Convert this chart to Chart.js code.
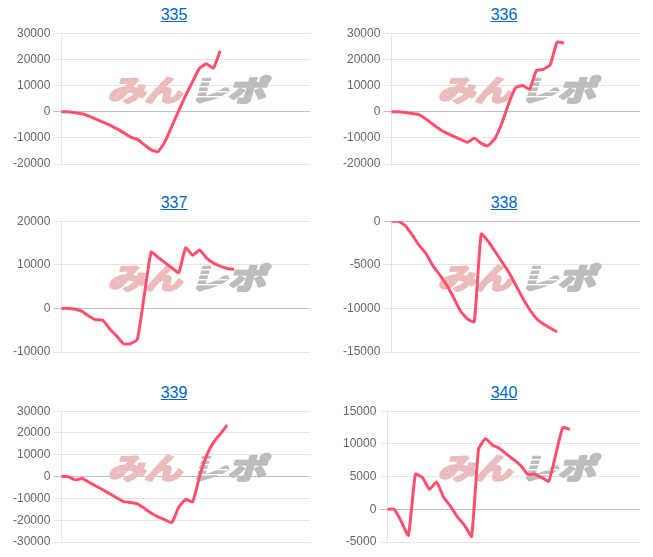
<!DOCTYPE html>
<html>
<head>
<meta charset="utf-8">
<script src="https://cdn.jsdelivr.net/npm/chart.js@4.4.0/dist/chart.umd.min.js"></script>
<style>
    body { margin: 0; background: #fff; font-family: Arial, "Liberation Sans", sans-serif; }
    .cell { position: absolute; width: 330px; height: 189px; }
    .cell .title { position: absolute; left: 0; top: 4px; width: 328px; text-align: center; font-size: 16px; line-height: 22px; }
    .cell a { color: #0066cc; text-decoration: underline; }
    .cell canvas { position: absolute; left: 0; top: 23px; }
</style>
</head>
<body>
<div id="grid"></div>
<script>
// Machine numbers shown above each small chart
const TITLES = ['335', '336', '337', '338', '339', '340'];

// x categories (not displayed)
const LABELS = ['1', '2', '3', '4', '5', '6', '7', '8', '9', '10', '11', '12', '13', '14', '15', '16', '17', '18', '19',
    '20', '21', '22', '23', '24', '25', '26', '27', '28', '29', '30', '31', '32', '33', '34', '35', '36', '37'];

// Series values
const DATA_335 = [0, 0, -400, -800, -1700, -2800, -4000, -5100, -6500, -8000, -9700, -10600, -12600, -14600,
    -15300, -11500, -5500, 400, 6200, 11500, 16600, 18300, 16600, 23300];
const DATA_336 = [0, 0, -300, -700, -1100, -2800, -4800, -6700, -8200, -9400, -10600, -11700, -10200, -12100,
    -13000, -10200, -4400, 3200, 9200, 10000, 8600, 15700, 16200, 17900, 26600, 26200];
const DATA_337 = [0, 0, -200, -700, -1800, -2600, -2700, -4700, -6300, -8100, -8100, -7100, 3000, 12900,
    11700, 10500, 9300, 8200, 13900, 12200, 13400, 11600, 10400, 9700, 9200, 8900];
const DATA_338 = [0, 0, -500, -1550, -2750, -3700, -5100, -6150, -7300, -8750, -10300, -11200, -11540,
    -1460, -2300, -3450, -4650, -5850, -7300, -8800, -10100, -11150, -11800, -12250, -12700];
const DATA_339 = [0, 0, -1500, -900, -2600, -4300, -6000, -7900, -9700, -11500, -11900, -12500, -14500,
    -16700, -18500, -19800, -21100, -14000, -10500, -11600, 0, 9500, 15600, 19500, 23700];
const DATA_340 = [0, 0, -1900, -3980, 5360, 4850, 3060, 4180, 1880, 460, -1180, -2450, -4130, 9200,
    10800, 9800, 9300, 8400, 7600, 6700, 5350, 5350, 4850, 4300, 8400, 12500, 12200];

const SERIES = [DATA_335, DATA_336, DATA_337, DATA_338, DATA_339, DATA_340];

// y axis ranges / tick steps
const Y_MIN = [-20000, -20000, -10000, -15000, -30000, -5000];
const Y_MAX = [30000, 30000, 20000, 0, 30000, 15000];
const Y_STEP = [10000, 10000, 10000, 5000, 10000, 5000];

const LINE_COLOR = 'rgb(255, 79, 110)';
const CELL_LEFT = [10, 340];
const CELL_TOP = [0, 188, 378];

// "みんレポ" watermark, drawn once on an offscreen canvas
function buildLogo() {
    const w = 166, h = 32;
    const c = document.createElement('canvas');
    c.width = w; c.height = h;
    const g = c.getContext('2d');

    function part(text, color, width, stripes) {
        const p = document.createElement('canvas');
        p.width = width + 14; p.height = h;
        const q = p.getContext('2d');
        q.font = 'bold 29px "Noto Sans CJK JP"';
        q.textBaseline = 'middle';
        const tw = q.measureText(text).width;
        q.setTransform(width / tw, 0, -0.3, 1, 8, 0);
        q.fillStyle = color;
        q.strokeStyle = color;
        q.lineWidth = 2.5;
        q.lineJoin = 'round';
        q.strokeText(text, 0, h / 2 + 1);
        q.fillText(text, 0, h / 2 + 1);
        if (stripes) {
            q.setTransform(1, 0, 0, 1, 0, 0);
            q.globalCompositeOperation = 'destination-out';
            for (let y = 8; y < h - 4; y += 5) {
                q.fillRect(0, y, width * 0.5, 1.4);
            }
        }
        return p;
    }

    g.drawImage(part('みん', '#ecbcbc', 74, false), 0, 0);
    g.drawImage(part('レポ', '#bdbdbd', 76, true), 82, 0);
    return c;
}

const LOGO = buildLogo();

const watermarkPlugin = {
    id: 'watermark',
    beforeDatasetsDraw(chart) {
        const ctx = chart.ctx;
        ctx.save();
        ctx.drawImage(LOGO, 98, 50);
        ctx.restore();
    }
};

const grid = document.getElementById('grid');

SERIES.forEach((values, i) => {
    const cell = document.createElement('div');
    cell.className = 'cell';
    cell.style.left = CELL_LEFT[i % 2] + 'px';
    cell.style.top = CELL_TOP[Math.floor(i / 2)] + 'px';

    const title = document.createElement('div');
    title.className = 'title';
    const link = document.createElement('a');
    link.href = '#';
    link.textContent = TITLES[i];
    title.appendChild(link);
    cell.appendChild(title);

    const canvas = document.createElement('canvas');
    canvas.width = 300;
    canvas.height = 153;
    cell.appendChild(canvas);
    grid.appendChild(cell);

    new Chart(canvas.getContext('2d'), {
        type: 'line',
        data: {
            labels: LABELS,
            datasets: [{
                data: values,
                borderColor: LINE_COLOR,
                borderWidth: 3,
                pointRadius: 0,
                tension: 0.15,
                fill: false
            }]
        },
        options: {
            responsive: false,
            animation: false,
            layout: { padding: { top: 7, bottom: 12, left: 0, right: 0 } },
            plugins: {
                legend: { display: false },
                tooltip: { enabled: false }
            },
            scales: {
                x: { display: false },
                y: {
                    min: Y_MIN[i],
                    max: Y_MAX[i],
                    ticks: {
                        stepSize: Y_STEP[i],
                        color: '#666',
                        font: { size: 12 },
                        callback: value => String(value)
                    },
                    grid: {
                        color: ctx => (ctx.tick && ctx.tick.value === 0) ? 'rgba(0,0,0,0.25)' : 'rgba(0,0,0,0.1)'
                    },
                    border: { color: 'rgba(0,0,0,0.1)' }
                }
            }
        },
        plugins: [watermarkPlugin]
    });
});
</script>
</body>
</html>
